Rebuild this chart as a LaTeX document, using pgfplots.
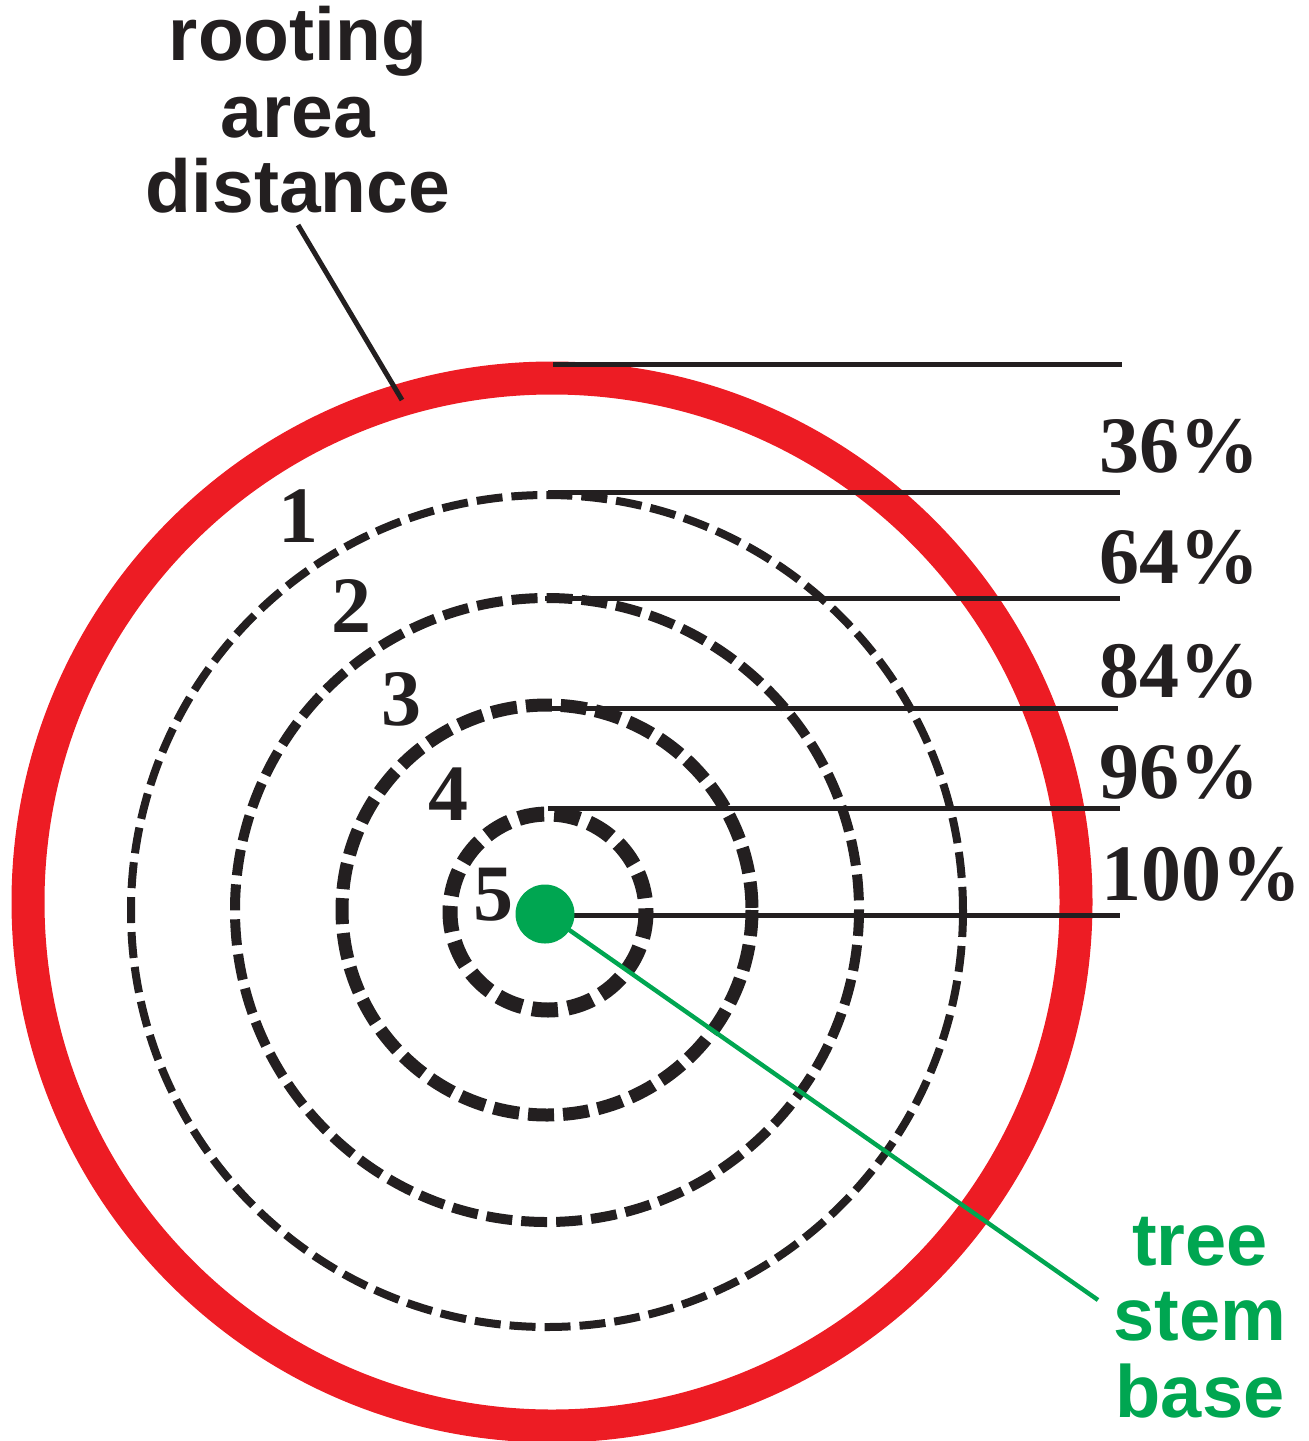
\documentclass[border=0pt]{standalone}
\usepackage{fontspec}
\setmainfont{Liberation Serif}
\newfontfamily\sansfont{Liberation Sans}
\usepackage{pgfplots}
\pgfplotsset{compat=1.18}
\definecolor{rred}{HTML}{ED1C24}
\definecolor{rgreen}{HTML}{00A651}
\definecolor{rblack}{HTML}{231F20}
\begin{document}
\begin{tikzpicture}
\begin{axis}[width=654.5pt, height=720.5pt, scale only axis,
  xmin=0, xmax=1309, ymin=0, ymax=1441, y dir=reverse,
  hide axis, clip=false]
% outer rooting area circle
\draw[rred, line width=16.5pt] (axis cs:552,902) circle[radius=524];
% dashed circles
\draw[rblack, line width=4pt, dash pattern=on 13pt off 4.5pt] (axis cs:547,911) circle[radius=416];
\draw[rblack, line width=5pt, dash pattern=on 13pt off 4.5pt] (axis cs:547,910) circle[radius=312];
\draw[rblack, line width=6.5pt, dash pattern=on 13pt off 4.5pt] (axis cs:547,910) circle[radius=205];
\draw[rblack, line width=7.5pt, dash pattern=on 13pt off 5pt] (axis cs:548,912) circle[radius=98];
% horizontal lines
\addplot[rblack, line width=2.5pt] coordinates {(553,364.5) (1122,364.5)};
\addplot[rblack, line width=2.5pt] coordinates {(548,492) (1120,492)};
\addplot[rblack, line width=2.5pt] coordinates {(545,598) (1120,598)};
\addplot[rblack, line width=2.5pt] coordinates {(548,708) (1118,708)};
\addplot[rblack, line width=2.5pt] coordinates {(548,808) (1120,808)};
\addplot[rblack, line width=2.5pt] coordinates {(548,915) (1120,915)};
% leader line
\addplot[rblack, line width=2.5pt] coordinates {(298,225) (402,400)};
% green line and dot
\addplot[rgreen, line width=2.2pt] coordinates {(545,913) (1098,1300)};
\fill[rgreen] (axis cs:545,914) circle[radius=29.5];
% percentages
\node[anchor=base west, inner sep=0pt, font=\fontsize{40pt}{40pt}\selectfont\bfseries, text=rblack] at (axis cs:1099,472) {36\%};
\node[anchor=base west, inner sep=0pt, font=\fontsize{40pt}{40pt}\selectfont\bfseries, text=rblack] at (axis cs:1099,583) {64\%};
\node[anchor=base west, inner sep=0pt, font=\fontsize{40pt}{40pt}\selectfont\bfseries, text=rblack] at (axis cs:1099,697) {84\%};
\node[anchor=base west, inner sep=0pt, font=\fontsize{40pt}{40pt}\selectfont\bfseries, text=rblack] at (axis cs:1099,798) {96\%};
\node[anchor=base west, inner sep=0pt, font=\fontsize{40pt}{40pt}\selectfont\bfseries, text=rblack] at (axis cs:1101,900) {100\%};
% ring numbers
\node[anchor=base, inner sep=0pt, font=\fontsize{40pt}{40pt}\selectfont\bfseries, text=rblack] at (axis cs:298,542) {1};
\node[anchor=base, inner sep=0pt, font=\fontsize{40pt}{40pt}\selectfont\bfseries, text=rblack] at (axis cs:351,632) {2};
\node[anchor=base, inner sep=0pt, font=\fontsize{40pt}{40pt}\selectfont\bfseries, text=rblack] at (axis cs:401,725) {3};
\node[anchor=base, inner sep=0pt, font=\fontsize{40pt}{40pt}\selectfont\bfseries, text=rblack] at (axis cs:448,820) {4};
\node[anchor=base, inner sep=0pt, font=\fontsize{40pt}{40pt}\selectfont\bfseries, text=rblack] at (axis cs:493,920) {5};
% rooting area distance
\node[anchor=base, inner sep=0pt, font=\sansfont\fontsize{37.5pt}{37.5pt}\selectfont\bfseries, text=rblack] at (axis cs:298,60) {rooting};
\node[anchor=base, inner sep=0pt, font=\sansfont\fontsize{37.5pt}{37.5pt}\selectfont\bfseries, text=rblack] at (axis cs:298,137) {area};
\node[anchor=base, inner sep=0pt, font=\sansfont\fontsize{37.5pt}{37.5pt}\selectfont\bfseries, text=rblack] at (axis cs:298,212) {distance};
% tree stem base
\node[anchor=base, inner sep=0pt, font=\sansfont\fontsize{37pt}{37pt}\selectfont\bfseries, text=rgreen] at (axis cs:1200,1265) {tree};
\node[anchor=base, inner sep=0pt, font=\sansfont\fontsize{37pt}{37pt}\selectfont\bfseries, text=rgreen] at (axis cs:1200,1340) {stem};
\node[anchor=base, inner sep=0pt, font=\sansfont\fontsize{37pt}{37pt}\selectfont\bfseries, text=rgreen] at (axis cs:1200,1417) {base};
\end{axis}
\pgfresetboundingbox
\path (current axis.south west) rectangle (current axis.north east);
\end{tikzpicture}
\end{document}
